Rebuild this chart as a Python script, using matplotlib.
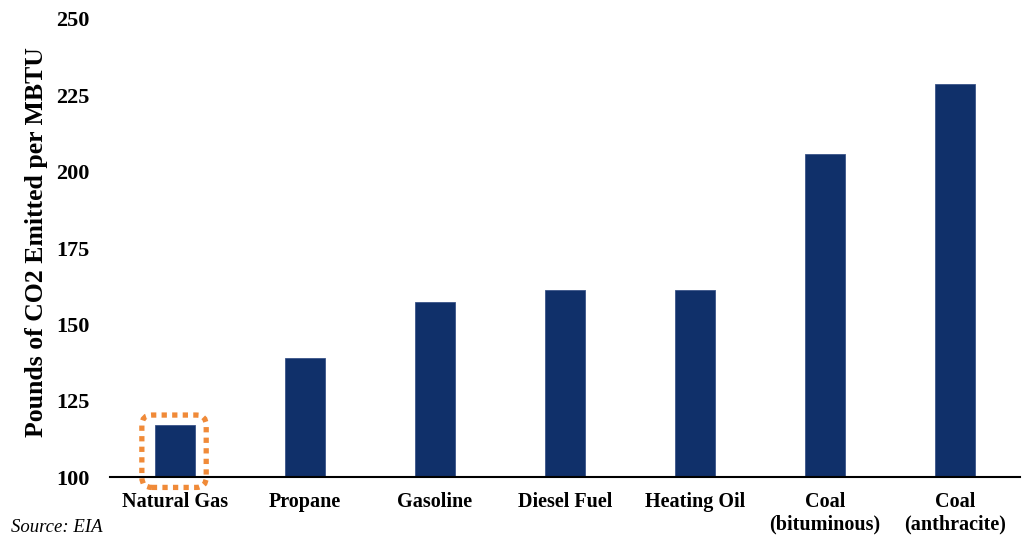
import matplotlib.pyplot as plt
from matplotlib.patches import FancyBboxPatch
from matplotlib.transforms import IdentityTransform

# CO2 emissions by fuel (EIA)
fuels = ["Natural Gas", "Propane", "Gasoline", "Diesel Fuel", "Heating Oil",
         "Coal\n(bituminous)", "Coal\n(anthracite)"]
co2_lbs = [117.0, 139.0, 157.2, 161.3, 161.3, 205.7, 228.6]
yticks = [100, 125, 150, 175, 200, 225, 250]

bar_color = "#10306A"
hl_color = "#F08A38"
serif = ["Liberation Serif", "DejaVu Serif"]

plt.rcParams["font.family"] = serif

fig = plt.figure(figsize=(10.3, 5.36), dpi=100)
ax = fig.add_axes([0.1068, 0.110, 0.8835, 0.8546])

x = list(range(len(fuels)))
ax.bar(x, [v - 100 for v in co2_lbs], bottom=100, width=0.31,
       color=bar_color, edgecolor="#3a5488", linewidth=0.6, zorder=2)

ax.set_xlim(-0.5, len(fuels) - 0.5)
ax.set_ylim(100, 250)
ax.set_yticks(yticks)
ax.set_yticklabels([str(t) for t in yticks], fontsize=16, fontweight="bold")
ax.set_xticks(x)
ax.set_xticklabels(fuels, fontsize=14.5, fontweight="bold", linespacing=1.12)
ax.tick_params(axis="both", length=0)
ax.tick_params(axis="y", pad=15)
ax.tick_params(axis="x", pad=11)
for s in ["top", "right", "left"]:
    ax.spines[s].set_visible(False)
ax.spines["bottom"].set_linewidth(1.5)
ax.spines["bottom"].set_zorder(3)

ax.set_ylabel("Pounds of CO2 Emitted per MBTU", fontsize=18.5,
              fontweight="bold")
ax.yaxis.set_label_coords(-0.068, 0.514)

# dotted highlight around the natural gas bar, sized in pixels
(x0, y0), (x1, y1) = ax.transData.transform([(-0.255, 96.6), (0.24, 120.3)])
box = FancyBboxPatch((x0, y0), x1 - x0, y1 - y0,
                     boxstyle="round,pad=0,rounding_size=10",
                     transform=IdentityTransform(),
                     fill=False, edgecolor=hl_color, linewidth=3.8,
                     linestyle=(0, (1.0, 1.0)), clip_on=False, zorder=4)
fig.patches.append(box)
box.set_figure(fig)

fig.text(0.011, 0.008, "Source: EIA", fontsize=13.5, style="italic")

fig.savefig("out.png", dpi=100)
